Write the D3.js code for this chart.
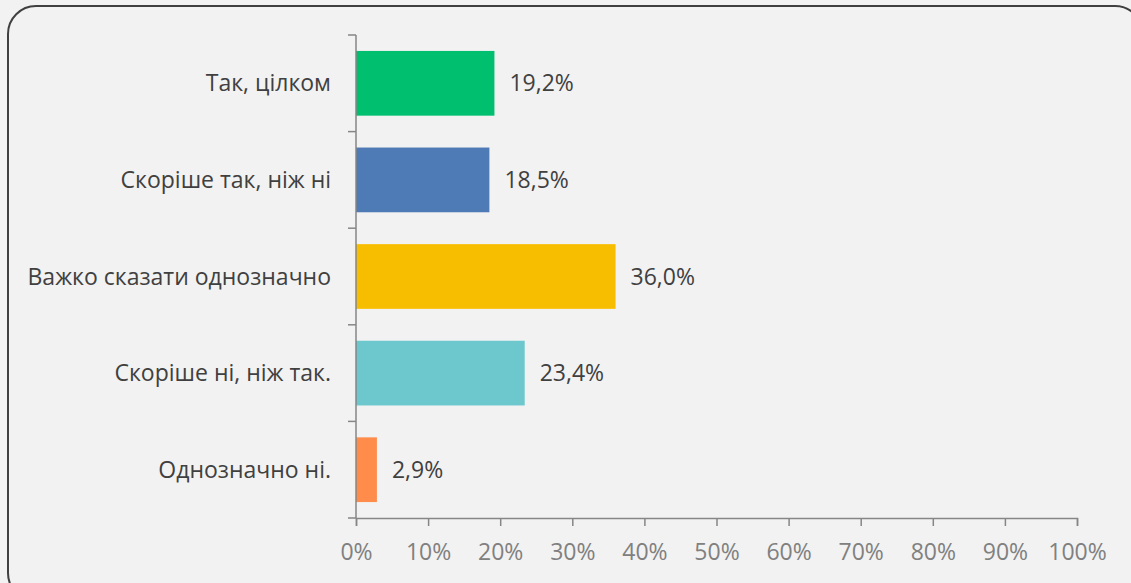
<!DOCTYPE html>
<meta charset="utf-8">
<style>
body { margin: 0; background: #f2f2f2; }
svg { display: block; }
.cat text { font-family: "Open Sans", sans-serif; font-size: 23px; fill: #404040; }
.val { font-family: "Open Sans", sans-serif; font-size: 23px; fill: #404040; }
</style>
<svg width="1131" height="583"></svg>
<script src="https://d3js.org/d3.v7.min.js"></script>
<script>
var categories = ["Так, цілком", "Скоріше так, ніж ні", "Важко сказати однозначно", "Скоріше ні, ніж так.", "Однозначно ні."];
var values = [19.2, 18.5, 36.0, 23.4, 2.9];
var colors = ["#00bf6f", "#4e7ab5", "#f7be00", "#6cc8cd", "#ff8c4b"];
var xTicks = [0, 10, 20, 30, 40, 50, 60, 70, 80, 90, 100];

var svg = d3.select("svg");

// frame
svg.append("rect")
    .attr("x", 8).attr("y", 6)
    .attr("width", 1135).attr("height", 595)
    .attr("rx", 28)
    .attr("fill", "#f2f2f2")
    .attr("stroke", "#404040")
    .attr("stroke-width", 2);

var pLeft = 356, pRight = 1077, pTop = 35, pBottom = 518;

var x = d3.scaleLinear().domain([0, 100]).range([pLeft, pRight]);
var y = d3.scaleBand().domain(categories).range([pTop, pBottom]).paddingInner(0.33).paddingOuter(0.165);

svg.selectAll(".bar")
    .data(values)
  .enter().append("rect")
    .attr("class", "bar")
    .attr("x", x(0))
    .attr("y", function(d, i) { return y(categories[i]); })
    .attr("width", function(d) { return x(d) - x(0); })
    .attr("height", y.bandwidth())
    .attr("fill", function(d, i) { return colors[i]; });

svg.selectAll(".val")
    .data(values)
  .enter().append("text")
    .attr("class", "val")
    .attr("x", function(d) { return x(d) + 15; })
    .attr("y", function(d, i) { return y(categories[i]) + y.bandwidth() / 2; })
    .attr("dy", "0.35em")
    .text(function(d) { return d.toFixed(1).replace(".", ",") + "%"; });

// y axis with boundary ticks
var step = (pBottom - pTop) / categories.length;
var yg = svg.append("g").attr("class", "cat");
yg.append("line").attr("x1", pLeft).attr("x2", pLeft).attr("y1", pTop).attr("y2", pBottom)
    .attr("stroke", "#868686").attr("stroke-width", 1.5);
d3.range(categories.length + 1).forEach(function(i) {
  yg.append("line").attr("x1", pLeft - 8).attr("x2", pLeft)
    .attr("y1", pTop + i * step).attr("y2", pTop + i * step)
    .attr("stroke", "#868686").attr("stroke-width", 1.5);
});
yg.selectAll("text").data(categories).enter().append("text")
    .attr("x", pLeft - 25)
    .attr("y", function(d) { return y(d) + y.bandwidth() / 2; })
    .attr("dy", "0.35em")
    .attr("text-anchor", "end")
    .text(function(d) { return d; });

// x axis
var xg = svg.append("g")
    .attr("transform", "translate(0," + pBottom + ")")
    .call(d3.axisBottom(x).tickValues(xTicks).tickSize(8).tickPadding(18)
      .tickFormat(function(d) { return d + "%"; }));
xg.select(".domain").attr("stroke", "#868686").attr("stroke-width", 1.5);
xg.selectAll(".tick line").attr("stroke", "#868686").attr("stroke-width", 1.5);
xg.selectAll(".tick text").style("font-size", "23px").style("font-family", "Open Sans, sans-serif").attr("fill", "#808080");
</script>
